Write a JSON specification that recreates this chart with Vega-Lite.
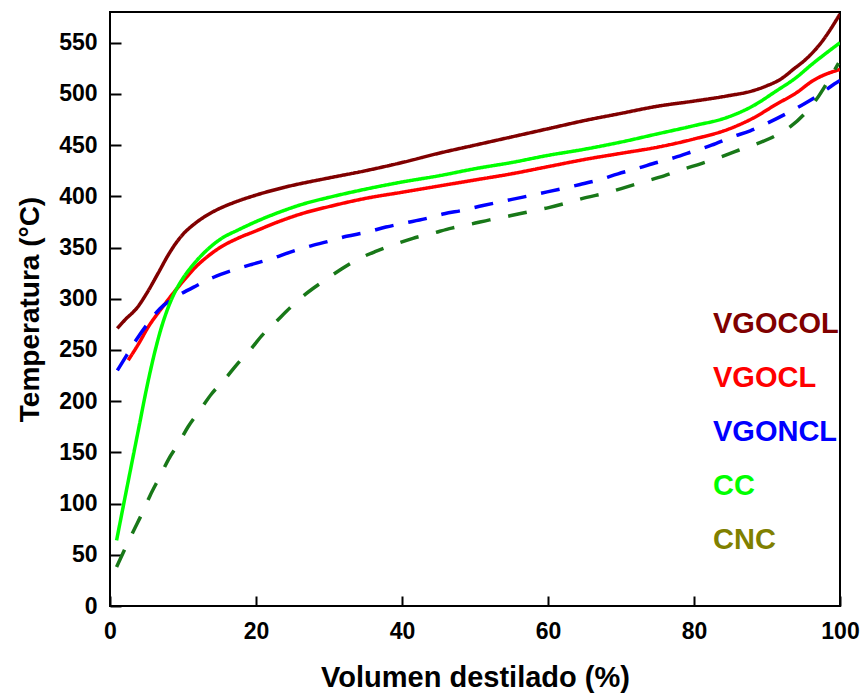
{
  "$schema": "https://vega.github.io/schema/vega-lite/v6.json",
  "width": 730,
  "height": 594,
  "autosize": {"type": "none"},
  "padding": {"left": 110, "top": 12, "right": 23, "bottom": 87},
  "background": "white",
  "config": {
    "view": {"stroke": "black", "strokeWidth": 2},
    "axis": {"domain": false, "ticks": false, "grid": true, "gridColor": "black", "gridOpacity": 1, "gridWidth": 2, "gridCap": "butt", "labelColor": "black", "titleColor": "black", "labelFont": "Liberation Sans", "titleFont": "Liberation Sans", "labelFontWeight": "bold", "titleFontWeight": "bold", "labelFontSize": 23, "labelFlush": false, "labelOverlap": false}
  },
  "data": {"values": [
    {"s":"VGOCOL","x":1,"y":271},{"s":"VGOCOL","x":2,"y":279},{"s":"VGOCOL","x":3.8,"y":292},{"s":"VGOCOL","x":5,"y":305},{"s":"VGOCOL","x":6.6,"y":325},{"s":"VGOCOL","x":8,"y":343},{"s":"VGOCOL","x":9,"y":354},{"s":"VGOCOL","x":10,"y":363},{"s":"VGOCOL","x":11.2,"y":371},{"s":"VGOCOL","x":12.5,"y":378},{"s":"VGOCOL","x":14.4,"y":386},{"s":"VGOCOL","x":17,"y":394},{"s":"VGOCOL","x":19.9,"y":401},{"s":"VGOCOL","x":24,"y":409},{"s":"VGOCOL","x":30,"y":418},{"s":"VGOCOL","x":35,"y":425},{"s":"VGOCOL","x":40,"y":433},{"s":"VGOCOL","x":45,"y":442},{"s":"VGOCOL","x":50,"y":450},{"s":"VGOCOL","x":55,"y":458},{"s":"VGOCOL","x":60,"y":466},{"s":"VGOCOL","x":65,"y":474},{"s":"VGOCOL","x":70,"y":481},{"s":"VGOCOL","x":75,"y":488},{"s":"VGOCOL","x":80,"y":493},{"s":"VGOCOL","x":84.5,"y":498},{"s":"VGOCOL","x":88,"y":503},{"s":"VGOCOL","x":90,"y":508},{"s":"VGOCOL","x":92,"y":515},{"s":"VGOCOL","x":93.6,"y":524},{"s":"VGOCOL","x":95.5,"y":535},{"s":"VGOCOL","x":97.3,"y":549},{"s":"VGOCOL","x":100,"y":578},
    {"s":"VGOCL","x":2.5,"y":240},{"s":"VGOCL","x":4,"y":257},{"s":"VGOCL","x":5.2,"y":272},{"s":"VGOCL","x":7,"y":290},{"s":"VGOCL","x":8.5,"y":304},{"s":"VGOCL","x":10,"y":317},{"s":"VGOCL","x":11.6,"y":330},{"s":"VGOCL","x":13.5,"y":342},{"s":"VGOCL","x":15.3,"y":351},{"s":"VGOCL","x":17.5,"y":359},{"s":"VGOCL","x":19.9,"y":366},{"s":"VGOCL","x":23,"y":375},{"s":"VGOCL","x":26.7,"y":384},{"s":"VGOCL","x":30,"y":390},{"s":"VGOCL","x":35,"y":398},{"s":"VGOCL","x":40,"y":404},{"s":"VGOCL","x":45,"y":410},{"s":"VGOCL","x":50,"y":416},{"s":"VGOCL","x":55,"y":422},{"s":"VGOCL","x":60,"y":429},{"s":"VGOCL","x":65,"y":436},{"s":"VGOCL","x":70,"y":442},{"s":"VGOCL","x":75,"y":448},{"s":"VGOCL","x":80,"y":456},{"s":"VGOCL","x":84.5,"y":465},{"s":"VGOCL","x":88,"y":476},{"s":"VGOCL","x":91.3,"y":490},{"s":"VGOCL","x":94,"y":501},{"s":"VGOCL","x":96.3,"y":513},{"s":"VGOCL","x":100,"y":524},
    {"s":"VGONCL","x":1,"y":230},{"s":"VGONCL","x":2.3,"y":245},{"s":"VGONCL","x":3.7,"y":261},{"s":"VGONCL","x":5.2,"y":276},{"s":"VGONCL","x":6.8,"y":290},{"s":"VGONCL","x":9.1,"y":302},{"s":"VGONCL","x":11.9,"y":313},{"s":"VGONCL","x":14.2,"y":321},{"s":"VGONCL","x":16.9,"y":328},{"s":"VGONCL","x":19.4,"y":333.5},{"s":"VGONCL","x":22.1,"y":339},{"s":"VGONCL","x":24.7,"y":345.6},{"s":"VGONCL","x":27.2,"y":351},{"s":"VGONCL","x":29.9,"y":356},{"s":"VGONCL","x":32.4,"y":361},{"s":"VGONCL","x":35.2,"y":365},{"s":"VGONCL","x":37.8,"y":370},{"s":"VGONCL","x":40.4,"y":374},{"s":"VGONCL","x":43.1,"y":378},{"s":"VGONCL","x":45.8,"y":383},{"s":"VGONCL","x":48.4,"y":386.5},{"s":"VGONCL","x":51.1,"y":391},{"s":"VGONCL","x":53.7,"y":395},{"s":"VGONCL","x":56.4,"y":399},{"s":"VGONCL","x":59,"y":403},{"s":"VGONCL","x":61.6,"y":407},{"s":"VGONCL","x":64.4,"y":411.6},{"s":"VGONCL","x":66.9,"y":416},{"s":"VGONCL","x":69.6,"y":422},{"s":"VGONCL","x":72.1,"y":427},{"s":"VGONCL","x":74.9,"y":433},{"s":"VGONCL","x":77.4,"y":438},{"s":"VGONCL","x":79.9,"y":444},{"s":"VGONCL","x":82.4,"y":450},{"s":"VGONCL","x":85.2,"y":458},{"s":"VGONCL","x":87.7,"y":464},{"s":"VGONCL","x":90.2,"y":472},{"s":"VGONCL","x":92.7,"y":481},{"s":"VGONCL","x":95,"y":490},{"s":"VGONCL","x":97.3,"y":500},{"s":"VGONCL","x":99.5,"y":511},{"s":"VGONCL","x":100,"y":513},
    {"s":"CC","x":0.9,"y":64},{"s":"CC","x":2,"y":104},{"s":"CC","x":3,"y":140},{"s":"CC","x":4,"y":176},{"s":"CC","x":5,"y":212},{"s":"CC","x":6,"y":244},{"s":"CC","x":7,"y":271},{"s":"CC","x":8,"y":292},{"s":"CC","x":9,"y":308},{"s":"CC","x":10,"y":320},{"s":"CC","x":11.6,"y":335},{"s":"CC","x":13.5,"y":349},{"s":"CC","x":15.3,"y":359},{"s":"CC","x":17.5,"y":367},{"s":"CC","x":19.9,"y":375},{"s":"CC","x":23,"y":384},{"s":"CC","x":26.7,"y":393},{"s":"CC","x":30,"y":399},{"s":"CC","x":35,"y":407},{"s":"CC","x":40,"y":414},{"s":"CC","x":45,"y":420},{"s":"CC","x":50,"y":427},{"s":"CC","x":55,"y":433},{"s":"CC","x":60,"y":440},{"s":"CC","x":65,"y":446},{"s":"CC","x":70,"y":453},{"s":"CC","x":75,"y":461},{"s":"CC","x":80,"y":469},{"s":"CC","x":84.5,"y":477},{"s":"CC","x":88,"y":488},{"s":"CC","x":91.3,"y":503},{"s":"CC","x":94,"y":516},{"s":"CC","x":96,"y":528},{"s":"CC","x":100,"y":550},
    {"s":"CNC","x":0.9,"y":38},{"s":"CNC","x":2,"y":55},{"s":"CNC","x":3.2,"y":73},{"s":"CNC","x":4.5,"y":92},{"s":"CNC","x":5.5,"y":108},{"s":"CNC","x":6.8,"y":126},{"s":"CNC","x":8,"y":143},{"s":"CNC","x":9.4,"y":159},{"s":"CNC","x":10.7,"y":175},{"s":"CNC","x":12.3,"y":191},{"s":"CNC","x":13.9,"y":207},{"s":"CNC","x":15.8,"y":222},{"s":"CNC","x":17.4,"y":236},{"s":"CNC","x":19.2,"y":250},{"s":"CNC","x":20.8,"y":264},{"s":"CNC","x":22.8,"y":278},{"s":"CNC","x":24.8,"y":292},{"s":"CNC","x":26.7,"y":304},{"s":"CNC","x":29.2,"y":317},{"s":"CNC","x":31.5,"y":328},{"s":"CNC","x":33.8,"y":338},{"s":"CNC","x":36.3,"y":346},{"s":"CNC","x":39,"y":353},{"s":"CNC","x":41.5,"y":359},{"s":"CNC","x":44.2,"y":364},{"s":"CNC","x":46.8,"y":369},{"s":"CNC","x":49.5,"y":373},{"s":"CNC","x":52,"y":377},{"s":"CNC","x":54.8,"y":381},{"s":"CNC","x":57.4,"y":385},{"s":"CNC","x":60.1,"y":389},{"s":"CNC","x":62.8,"y":394},{"s":"CNC","x":65.3,"y":399},{"s":"CNC","x":67.8,"y":403},{"s":"CNC","x":70.7,"y":409},{"s":"CNC","x":73,"y":414},{"s":"CNC","x":75.9,"y":420},{"s":"CNC","x":78.3,"y":426},{"s":"CNC","x":81,"y":432},{"s":"CNC","x":83.5,"y":438},{"s":"CNC","x":86.1,"y":445},{"s":"CNC","x":88.5,"y":451},{"s":"CNC","x":91.1,"y":459},{"s":"CNC","x":93.2,"y":468},{"s":"CNC","x":95.2,"y":481},{"s":"CNC","x":96.8,"y":495},{"s":"CNC","x":98.4,"y":513},{"s":"CNC","x":99.8,"y":530}
  ]},
  "layer": [
    {
      "mark": {"type": "line", "strokeWidth": 3.5, "interpolate": "monotone", "clip": true},
      "encoding": {
        "x": {"field": "x", "type": "quantitative", "scale": {"domain": [0, 100], "nice": false},
          "axis": {"orient": "bottom", "values": [0, 20, 40, 60, 80, 100], "gridDash": [0, 584, 10, 2000], "labelPadding": 14, "title": "Volumen destilado (%)", "titleFontSize": 29, "titlePadding": 20}},
        "y": {"field": "y", "type": "quantitative", "scale": {"domain": [0, 580], "nice": false, "zero": true},
          "axis": {"orient": "left", "values": [0, 50, 100, 150, 200, 250, 300, 350, 400, 450, 500, 550], "gridDash": [11, 2000], "labelPadding": 13, "title": "Temperatura (°C)", "titleFontSize": 28, "titlePadding": 14}},
        "color": {"field": "s", "type": "nominal",
          "scale": {"domain": ["VGOCOL", "VGOCL", "VGONCL", "CC", "CNC"], "range": ["#800000", "#ff0000", "#0000ff", "#00ff00", "#187818"]},
          "legend": {"orient": "none", "legendX": 574, "legendY": 297, "title": null, "direction": "vertical", "symbolSize": 0, "symbolOpacity": 0, "symbolStrokeWidth": 0, "labelOffset": 0, "labelFont": "Liberation Sans", "labelFontWeight": "bold", "labelFontSize": 29, "rowPadding": 24, "padding": 0,
            "encode": {"labels": {"update": {"fill": {"signal": "datum.value === 'CNC' ? '#808000' : scale('color', datum.value)"}}}}}},
        "strokeDash": {"field": "s", "type": "nominal",
          "scale": {"domain": ["VGOCOL", "VGOCL", "VGONCL", "CC", "CNC"], "range": [[1, 0], [1, 0], [19, 15], [1, 0], [19, 18]]},
          "legend": null}
      }
    },
    {
      "mark": {"type": "point", "opacity": 0},
      "encoding": {
        "x": {"field": "x", "type": "quantitative",
          "axis": {"orient": "bottom", "values": [10, 30, 50, 70, 90], "gridDash": [0, 588, 6, 2000], "labels": false, "title": null}},
        "y": {"field": "y", "type": "quantitative",
          "axis": {"orient": "left", "values": [25, 75, 125, 175, 225, 275, 325, 375, 425, 475, 525, 575], "gridDash": [6, 2000], "labels": false, "title": null}}
      }
    }
  ],
  "resolve": {"axis": {"x": "independent", "y": "independent"}}
}
